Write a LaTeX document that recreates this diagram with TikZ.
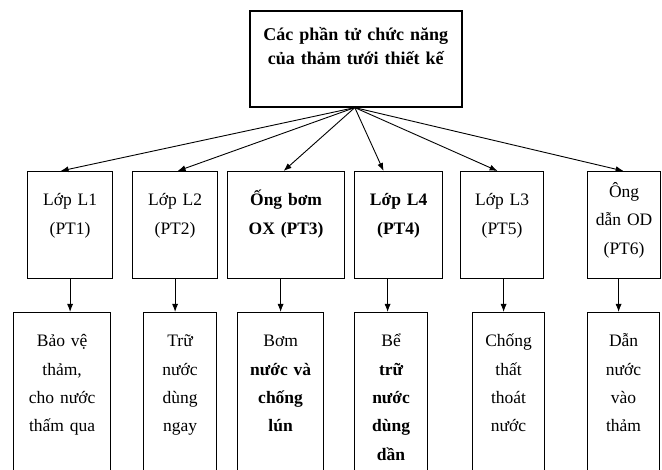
\documentclass[tikz,border=0pt]{standalone}
\usepackage{fontspec}
\setmainfont{Liberation Serif}
\usetikzlibrary{arrows.meta}
\begin{document}
\begin{tikzpicture}[x=1pt,y=-1pt,
  box/.style={draw, line width=1.2pt, inner sep=0pt, anchor=north west},
  topbox/.style={draw, line width=1.6pt, inner sep=0pt, anchor=north west},
  txt/.style={inner sep=0pt, align=center, text width=110pt, anchor=base,
    font=\fontsize{17.5}{28.3}\selectfont},
  arr/.style={line width=0.9pt, -{Latex[length=8pt,width=6pt]}}]
\useasboundingbox (0,0) rectangle (662,470);
\clip (0,0) rectangle (662,470);
\fill[white] (0,0) rectangle (662,470);

% top box
\node[topbox, minimum width=212pt, minimum height=96pt] (top) at (249,10) {};
\node[inner sep=0pt, align=center, text width=210pt, anchor=base,
  font=\bfseries\fontsize{18}{24}\selectfont] (tt) at (top.center |- 0,41)
  {Các phần tử chức năng\\của thảm tưới thiết kế};

% middle boxes
\node[box, minimum width=85pt, minimum height=107pt] (m1) at (27,171) {};
\node[box, minimum width=85pt, minimum height=107pt] (m2) at (132,171) {};
\node[box, minimum width=117pt, minimum height=107pt] (m3) at (227,171) {};
\node[box, minimum width=88pt, minimum height=107pt] (m4) at (354,171) {};
\node[box, minimum width=83pt, minimum height=107pt] (m5) at (460,171) {};
\node[box, minimum width=73pt, minimum height=107pt] (m6) at (587,171) {};

\node[txt] (tm1) at (m1.center |- 0,206) {Lớp L1\\(PT1)};
\node[txt] (tm2) at (m2.center |- 0,206) {Lớp L2\\(PT2)};
\node[txt] (tm3) at (m3.center |- 0,206) {\bfseries Ống bơm\\\bfseries OX (PT3)};
\node[txt] (tm4) at (m4.center |- 0,206) {\bfseries Lớp L4\\\bfseries (PT4)};
\node[txt] (tm5) at (m5.center |- 0,206) {Lớp L3\\(PT5)};
\node[txt] (tm6) at (m6.center |- 0,197.5) {Ông\\dẫn OD\\(PT6)};

% bottom boxes
\node[box, minimum width=97pt, minimum height=170pt] (b1) at (13,312) {};
\node[box, minimum width=73pt, minimum height=170pt] (b2) at (143,312) {};
\node[box, minimum width=86pt, minimum height=170pt] (b3) at (237,312) {};
\node[box, minimum width=73pt, minimum height=170pt] (b4) at (354,312) {};
\node[box, minimum width=72pt, minimum height=170pt] (b5) at (472,312) {};
\node[box, minimum width=72pt, minimum height=170pt] (b6) at (587,312) {};

\node[txt] (tb1) at (b1.center |- 0,347) {Bảo vệ\\thảm,\\cho nước\\thấm qua};
\node[txt] (tb2) at (b2.center |- 0,347) {Trữ\\nước\\dùng\\ngay};
\node[txt] (tb3) at (b3.center |- 0,347) {Bơm\\\bfseries nước và\\\bfseries chống\\\bfseries lún};
\node[txt] (tb4) at (b4.center |- 0,347) {Bể\\\bfseries trữ\\\bfseries nước\\\bfseries dùng\\\bfseries dần};
\node[txt] (tb5) at (b5.center |- 0,347) {Chống\\thất\\thoát\\nước};
\node[txt] (tb6) at (b6.center |- 0,347) {Dẫn\\nước\\vào\\thảm};

% arrows from top
\coordinate (src) at ([xshift=-1pt]top.south);
\draw[arr] (src) -- ([xshift=-9.5pt]m1.north);
\draw[arr] (src) -- ([xshift=2.5pt]m2.north);
\draw[arr] (src) -- ([xshift=-2.5pt]m3.north);
\draw[arr] (src) -- ([xshift=-15pt]m4.north);
\draw[arr] (src) -- ([xshift=-4.5pt]m5.north);
\draw[arr] (src) -- ([xshift=-0.5pt]m6.north);

% vertical arrows
\draw[arr] (m1.south) -- (m1.south |- b1.north);
\draw[arr] (m2.south) -- (m2.south |- b2.north);
\draw[arr] ([xshift=-5.5pt]m3.south) -- ([xshift=-5.5pt]m3.south |- b3.north);
\draw[arr] ([xshift=-11pt]m4.south) -- ([xshift=-11pt]m4.south |- b4.north);
\draw[arr] ([xshift=1.5pt]m5.south) -- ([xshift=1.5pt]m5.south |- b5.north);
\draw[arr] ([xshift=-5.5pt]m6.south) -- ([xshift=-5.5pt]m6.south |- b6.north);
\end{tikzpicture}
\end{document}
